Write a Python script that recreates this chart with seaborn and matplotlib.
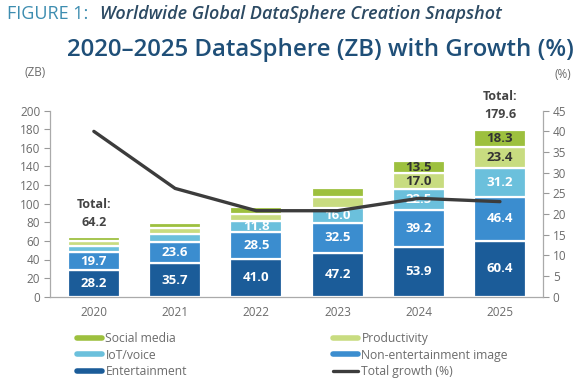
import matplotlib
matplotlib.use("Agg")
import matplotlib.pyplot as plt
from matplotlib.lines import Line2D
import seaborn as sns
import numpy as np

YEARS = ["2020", "2021", "2022", "2023", "2024", "2025"]
ENTERTAINMENT = [28.2, 35.7, 41.0, 47.2, 53.9, 60.4]
NON_ENT_IMAGE = [19.7, 23.6, 28.5, 32.5, 39.2, 46.4]
IOT_VOICE = [6.5, 8.5, 11.8, 16.0, 22.5, 31.2]
PRODUCTIVITY = [5.0, 6.0, 8.0, 11.3, 17.0, 23.4]
SOCIAL_MEDIA = [4.8, 5.8, 7.5, 9.6, 13.5, 18.3]
GROWTH = [40.0, 26.2, 20.8, 20.8, 23.8, 23.0]
TOTALS = {"2020": "64.2", "2025": "179.6"}

# which segment values get printed inside the bars
SHOW_ENT = ["28.2", "35.7", "41.0", "47.2", "53.9", "60.4"]
SHOW_NONENT = ["19.7", "23.6", "28.5", "32.5", "39.2", "46.4"]
SHOW_IOT = ["", "", "11.8", "16.0", "22.5", "31.2"]
SHOW_PROD = ["", "", "", "", "17.0", "23.4"]
SHOW_SOCIAL = ["", "", "", "", "13.5", "18.3"]

C_ENT = "#1b5c99"
C_NONENT = "#3b8dcf"
C_IOT = "#6bc0dc"
C_PROD = "#c8dc80"
C_SOCIAL = "#9dc03e"
C_LINE = "#3c3c3c"
GREY = "#6b6b6b"

sns.set_style("white")
plt.rcParams["font.family"] = ["Open Sans", "DejaVu Sans"]

fig = plt.figure(figsize=(5.83, 3.8), dpi=100)
ax = fig.add_axes([50 / 583, 1 - 296.7 / 380, 493 / 583, 186 / 380])

segments = [
    (ENTERTAINMENT, C_ENT, SHOW_ENT, "white"),
    (NON_ENT_IMAGE, C_NONENT, SHOW_NONENT, "white"),
    (IOT_VOICE, C_IOT, SHOW_IOT, "white"),
    (PRODUCTIVITY, C_PROD, SHOW_PROD, "#333333"),
    (SOCIAL_MEDIA, C_SOCIAL, SHOW_SOCIAL, "#333333"),
]

bottom = np.zeros(len(YEARS))
for vals, col, labels, tcol in segments:
    sns.barplot(x=YEARS, y=vals, bottom=bottom, color=col, width=0.64,
                errorbar=None, edgecolor="white", linewidth=1.6,
                saturation=1, ax=ax)
    ax.bar_label(ax.containers[-1], labels=labels, label_type="center",
                 color=tcol, fontsize=9.5, fontweight="bold")
    bottom = bottom + np.array(vals)

for i, yr in enumerate(YEARS):
    if yr in TOTALS:
        ax.annotate(f"Total:\n{TOTALS[yr]}", (i, bottom[i]), xytext=(0, 6),
                    textcoords="offset points", ha="center", va="bottom",
                    fontsize=9, fontweight="bold", color="#444444",
                    linespacing=1.5)

ax.set_xlim(-0.54, 5.53)
ax.set_ylim(0, 200)
ax.set_yticks(range(0, 201, 20))
ax.set_xlabel("")
ax.set_ylabel("")
ax.tick_params(axis="y", direction="out", length=4, width=0.8, color="#999999",
               labelcolor=GREY, labelsize=8.5, pad=3)
ax.tick_params(axis="x", length=0, labelcolor=GREY, labelsize=8.5, pad=7)
for s in ["top", "right"]:
    ax.spines[s].set_visible(False)
for s in ["left", "bottom"]:
    ax.spines[s].set_color("#aaaaaa")
    ax.spines[s].set_linewidth(0.9)

ax2 = ax.twinx()
sns.lineplot(x=np.arange(len(YEARS)), y=GROWTH, color=C_LINE, linewidth=2.4,
             ax=ax2)
ax2.set_ylim(0, 45)
ax2.set_yticks(range(0, 46, 5))
ax2.set_xlim(-0.54, 5.53)
ax2.tick_params(axis="y", direction="out", length=4, width=0.8, color="#999999",
                labelcolor=GREY, labelsize=8.5, pad=3)
for s in ["top", "left", "bottom"]:
    ax2.spines[s].set_visible(False)
ax2.spines["right"].set_color("#aaaaaa")
ax2.spines["right"].set_linewidth(0.9)

fig.text(7 / 583, 1 - 14 / 380, "FIGURE 1:", color="#3d8db0", fontsize=13,
         va="center", ha="left")
fig.text(100 / 583, 1 - 14 / 380, "Worldwide Global DataSphere Creation Snapshot",
         color="#2c4a63", fontsize=13, fontstyle="italic", fontweight="semibold",
         va="center", ha="left")
fig.text(67 / 583, 1 - 50 / 380, "2020\u20132025 DataSphere (ZB) with Growth (%)",
         color="#1f4f78", fontsize=17.3, fontweight="semibold",
         va="center", ha="left")
fig.text(35 / 583, 1 - 73 / 380, "(ZB)", color=GREY, fontsize=8.5,
         ha="center", va="center")
fig.text(563 / 583, 1 - 75 / 380, "(%)", color=GREY, fontsize=8.5,
         ha="center", va="center")

handles = [
    Line2D([], [], color=C_SOCIAL, lw=4),
    Line2D([], [], color=C_IOT, lw=4),
    Line2D([], [], color=C_ENT, lw=4),
    Line2D([], [], color=C_PROD, lw=4),
    Line2D([], [], color=C_NONENT, lw=4),
    Line2D([], [], color=C_LINE, lw=2.4),
]
labels = ["Social media", "IoT/voice", "Entertainment",
          "Productivity", "Non-entertainment image", "Total growth (%)"]
leg = fig.legend(handles, labels, ncol=2, loc="upper left",
                 bbox_to_anchor=(77 / 583, 1 - 332 / 380), frameon=False,
                 fontsize=8.7, handlelength=2.1, handletextpad=0.25,
                 columnspacing=12.1, labelspacing=0.3, borderpad=0,
                 borderaxespad=0)
for t in leg.get_texts():
    t.set_color(GREY)

plt.savefig("out.png", dpi=100)
